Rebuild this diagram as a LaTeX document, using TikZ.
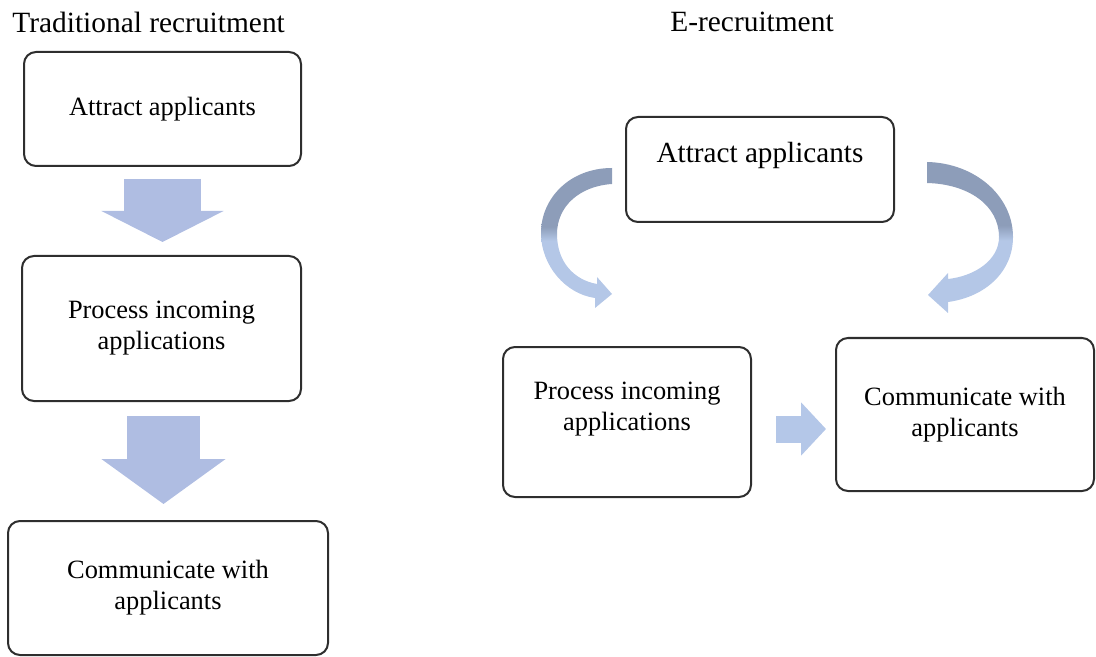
\documentclass[tikz,border=0pt]{standalone}
\usepackage{fontspec}
\setmainfont{Liberation Serif}
\usetikzlibrary{arrows.meta, calc}

\begin{document}
\begin{tikzpicture}[x=0.5pt, y=-0.5pt,
    box/.style={draw=boxgray, line width=1pt, rounded corners=6pt, align=center, font={\fontsize{13.2}{15.5}\selectfont}},
    title/.style={font={\fontsize{14.7}{17}\selectfont}, inner sep=0pt}]
  % Define colors
  \definecolor{boxgray}{HTML}{2E2E2E}
  \definecolor{blockblue}{HTML}{AFBDE2}
  \definecolor{smallblue}{HTML}{B4C7E8}
  \definecolor{curvedark}{HTML}{8D9DB9}
  \definecolor{curvelight}{HTML}{B4C7E7}
  \pgfdeclareverticalshading{curveshade}{100bp}{color(0bp)=(curvelight); color(49bp)=(curvelight); color(54bp)=(curvedark); color(100bp)=(curvedark)}

  \useasboundingbox (0,0) rectangle (1096,657);

  % Titles
  \node[title, anchor=west] (tradtitle) at (12,22) {Traditional recruitment};
  \node[title] (erectitle) at (752,22) {E-recruitment};

  % Left: traditional recruitment
  \node[box, minimum width=138.5pt, minimum height=57pt] (trad1) at (162.5,109) {Attract applicants};
  \node[box, minimum width=139.5pt, minimum height=72.5pt] (trad2) at (161.5,328.5) {Process incoming\\applications};
  \node[box, minimum width=160pt, minimum height=67pt] (trad3) at (168,588) {Communicate with\\applicants};

  \draw[blockblue, line width=38.5pt, shorten <=6pt, shorten >=6.5pt,
    -{Triangle[length=15.5pt, width=60.5pt]}] (trad1.south) -- (trad1.south |- trad2.north);
  \draw[blockblue, line width=36.5pt, shorten <=7pt, shorten >=8pt,
    -{Triangle[length=22.5pt, width=61pt]}] ([xshift=1pt]trad2.south) -- ([xshift=1pt]trad2.south |- trad3.north);

  % Right: e-recruitment
  \node[box, minimum width=134pt, minimum height=52.5pt] (erec1) at (760,169.5) {};
  \node[font={\fontsize{14.6}{17}\selectfont}] (erec1text) at ([yshift=7pt]erec1.center) {Attract applicants};
  \node[box, minimum width=124pt, minimum height=75pt] (erec2) at (627,422) {};
  \node[box, draw=none, align=center] (erec2text) at ([yshift=6.5pt]erec2.center) {Process incoming\\applications};
  \node[box, minimum width=129pt, minimum height=76.5pt] (erec3) at (965,414.5) {Communicate with\\applicants};

  \draw[smallblue, line width=13.5pt, shorten <=12pt, shorten >=4.5pt,
    -{Triangle[length=12.5pt, width=26pt]}] ([yshift=-3.5pt]erec2.east) -- ([yshift=-3.5pt]erec2.east -| erec3.west);

  % Curved arrows
  \shade[shading=curveshade] (612,168) .. controls (570,168) and (541,198) .. (541,233)
    .. controls (541,266) and (566,294) .. (595,298) -- (595,308) -- (612,294) -- (597,277) -- (597,284)
    .. controls (574,280) and (557,262) .. (557,234) .. controls (557,206) and (580,186) .. (612,184) -- cycle;
  \shade[shading=curveshade] (927,162) .. controls (975,163) and (1013,196) .. (1013,237)
    .. controls (1013,272) and (985,297) .. (948,302) -- (948,313) -- (928,295) -- (948,273) -- (948,279)
    .. controls (975,276) and (999,260) .. (999,237) .. controls (999,205) and (968,184) .. (927,183) -- cycle;
\end{tikzpicture}
\end{document}
